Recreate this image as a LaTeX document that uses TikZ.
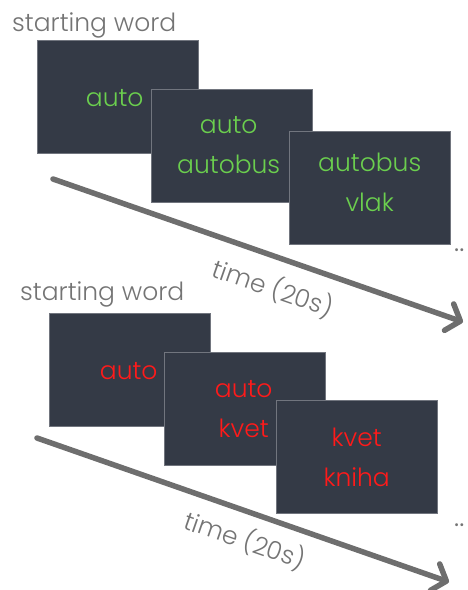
\documentclass[tikz,border=0pt]{standalone}
\usepackage{fontspec}
\setmainfont{Poppins Light}
\usetikzlibrary{arrows.meta,positioning}
\definecolor{slate}{HTML}{343A46}
\definecolor{okgreen}{HTML}{6BCF4E}
\definecolor{badred}{HTML}{FF1A1A}
\definecolor{txtgray}{HTML}{747474}
\definecolor{linegray}{HTML}{6E6E6E}
\tikzset{
  screen/.style={fill=slate, draw=slate!70!white, line width=0.4pt, minimum width=161pt,
    minimum height=113pt, anchor=north west, inner sep=0pt},
  words/.style={align=center, inner sep=0pt, font=\fontsize{25}{40}\selectfont},
  greytext/.style={text=txtgray, inner sep=0pt, font=\fontsize{25}{30}\selectfont},
  timeline/.style={draw=linegray, line width=5.5pt, line cap=round,
    -{Straight Barb[length=12pt 0, width=28pt 0, round]}}
}
\begin{document}
\begin{tikzpicture}[x=1pt, y=-1pt]
    \useasboundingbox (0,0) rectangle (468,590);
    \node[greytext, anchor=base west] (start1) at (12,31) {starting word};
    \node[screen] (g1) at (37,40) {};
    \node[words, text=okgreen] (g1w) at ([xshift=-3pt, yshift=-1pt]g1.center) {auto};
    \node[screen] (g2) at (151,89) {};
    \node[words, text=okgreen] (g2w) at ([xshift=-3pt, yshift=1pt]g2.center) {auto\\autobus};
    \node[screen] (g3) at (289,131) {};
    \node[words, text=okgreen] (g3w) at ([yshift=5pt]g3.center) {autobus\\vlak};
    \node[greytext, anchor=base west, font=\fontsize{28}{30}\selectfont] (more1) at (454,251) {..};
    \coordinate (t1s) at (53,179);
    \coordinate (t1e) at (463,322);
    \draw[timeline] (t1s) -- (t1e);
    \node[greytext, rotate=-19.2] (time1) at (273,288) {time (20s)};
    \node[greytext, anchor=base west] (start2) at (20,300) {starting word};
    \node[screen] (r1) at (49,313) {};
    \node[words, text=badred] (r1w) at ([xshift=-1pt, yshift=-1pt]r1.center) {auto};
    \node[screen] (r2) at (164,352) {};
    \node[words, text=badred] (r2w) at ([xshift=-1pt]r2.center) {auto\\kvet};
    \node[screen] (r3) at (276,400) {};
    \node[words, text=badred] (r3w) at ([yshift=-1pt]r3.center) {kvet\\kniha};
    \node[greytext, anchor=base west, font=\fontsize{28}{30}\selectfont] (more2) at (454,526) {..};
    \coordinate (t2s) at (37,438);
    \coordinate (t2e) at (449,582);
    \draw[timeline] (t2s) -- (t2e);
    \node[greytext, rotate=-19.2] (time2) at (245,540) {time (20s)};
\end{tikzpicture}
\end{document}
